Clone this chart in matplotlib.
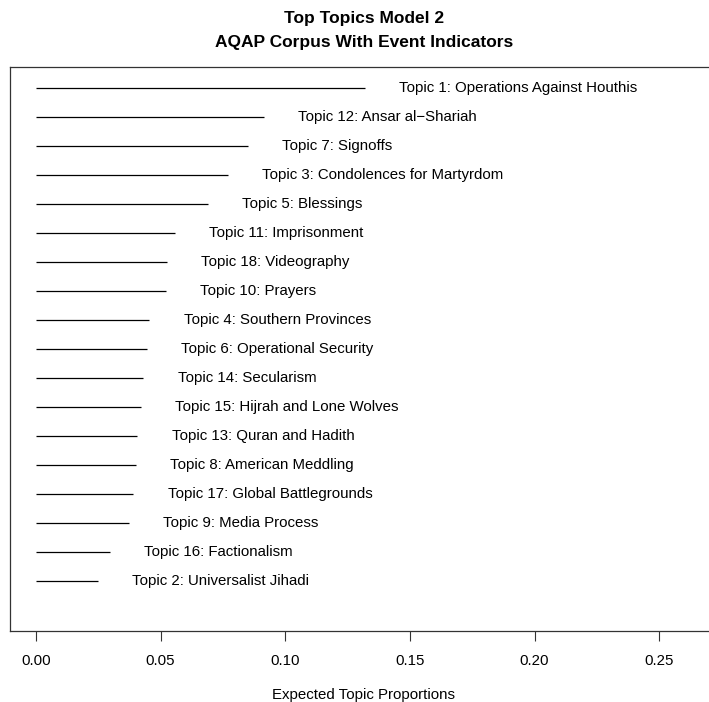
import numpy as np
import matplotlib
matplotlib.use("Agg")
import matplotlib.pyplot as plt

plt.rcParams['font.family'] = ['Liberation Sans', 'DejaVu Sans']

# topics listed from bottom to top
labels = [
    "Topic 2: Universalist Jihadi",
    "Topic 16: Factionalism",
    "Topic 9: Media Process",
    "Topic 17: Global Battlegrounds",
    "Topic 8: American Meddling",
    "Topic 13: Quran and Hadith",
    "Topic 15: Hijrah and Lone Wolves",
    "Topic 14: Secularism",
    "Topic 6: Operational Security",
    "Topic 4: Southern Provinces",
    "Topic 10: Prayers",
    "Topic 18: Videography",
    "Topic 11: Imprisonment",
    "Topic 5: Blessings",
    "Topic 3: Condolences for Martyrdom",
    "Topic 7: Signoffs",
    "Topic 12: Ansar al\u2212Shariah",
    "Topic 1: Operations Against Houthis",
]
proportions = [0.0248, 0.0297, 0.0373, 0.0391, 0.0402, 0.0407, 0.0420, 0.0431,
               0.0444, 0.0455, 0.0522, 0.0525, 0.0558, 0.0691, 0.0771, 0.0852,
               0.0913, 0.1321]
xticks = [0.00, 0.05, 0.10, 0.15, 0.20, 0.25]

fig = plt.figure(figsize=(7.09, 7.02), dpi=100)
ax = fig.add_axes([10 / 709, 1 - 631 / 702, 700 / 709, (631 - 67) / 702])

y = np.arange(1, len(labels) + 1)
ax.hlines(y, 0, proportions, color='black', lw=0.9)
for yi, p, lab in zip(y, proportions, labels):
    ax.text(p + 0.0137, yi, lab, va='center', ha='left', fontsize=10.8)

ax.set_xlim(-0.0104, 0.2704)
ax.set_ylim(-0.72, 18.72)
ax.set_yticks([])
ax.set_xticks(xticks)
ax.set_xticklabels(['%.2f' % t for t in xticks], fontsize=10.8)
ax.tick_params(axis='x', length=7, width=0.8, pad=9.5, color='#333333')
for s in ax.spines.values():
    s.set_color('#333333')
    s.set_linewidth(0.9)

fig.text(364 / 709, 1 - 18 / 702, "Top Topics Model 2", ha='center', va='center',
         fontsize=12.5, fontweight='bold')
fig.text(364 / 709, 1 - 43 / 702, "AQAP Corpus With Event Indicators", ha='center',
         va='center', fontsize=12.5, fontweight='bold')
fig.text(364 / 709, 1 - 695 / 702, "Expected Topic Proportions", ha='center',
         va='center', fontsize=10.8)

fig.savefig("out.png", dpi=100)
